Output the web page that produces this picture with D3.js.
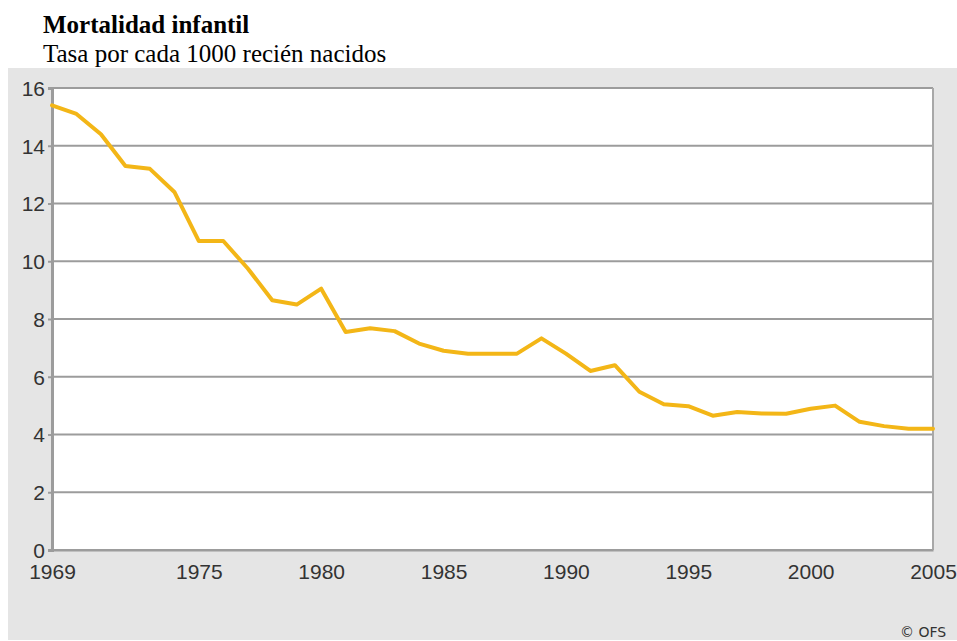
<!DOCTYPE html>
<html>
<head>
<meta charset="utf-8">
<script src="https://cdn.jsdelivr.net/npm/d3@7"></script>
<style>
  html, body { margin: 0; padding: 0; background: #ffffff; }
  svg { display: block; }
</style>
</head>
<body>
<svg id="chart" width="957" height="641"></svg>
<script>
const title = "Mortalidad infantil";
const subtitle = "Tasa por cada 1000 recién nacidos";
const credit = "© OFS";

const years = [1969, 1970, 1971, 1972, 1973, 1974, 1975, 1976, 1977, 1978,
               1979, 1980, 1981, 1982, 1983, 1984, 1985, 1986, 1987, 1988,
               1989, 1990, 1991, 1992, 1993, 1994, 1995, 1996, 1997, 1998,
               1999, 2000, 2001, 2002, 2003, 2004, 2005];
const rates = [15.4, 15.1, 14.4, 13.3, 13.2, 12.4, 10.7, 10.7, 9.75, 8.65,
               8.5, 9.05, 7.55, 7.68, 7.58, 7.15, 6.9, 6.8, 6.8, 6.8,
               7.33, 6.8, 6.2, 6.4, 5.48, 5.05, 4.98, 4.65, 4.78, 4.73,
               4.72, 4.89, 5.0, 4.44, 4.29, 4.2, 4.2];
const xTicks = [1969, 1975, 1980, 1985, 1990, 1995, 2000, 2005];
const yTicks = [0, 2, 4, 6, 8, 10, 12, 14, 16];

const svg = d3.select("#chart");
const W = 957, H = 641;
const plot = { left: 52, right: 933, top: 88, bottom: 550 };

// titles
svg.append("text")
  .attr("x", 43).attr("y", 33)
  .attr("font-family", "'Liberation Serif', 'Times New Roman', serif")
  .attr("font-size", 25).attr("font-weight", "bold").attr("fill", "#000")
  .text(title);
svg.append("text")
  .attr("x", 43).attr("y", 62)
  .attr("font-family", "'Liberation Serif', 'Times New Roman', serif")
  .attr("font-size", 25).attr("fill", "#000")
  .text(subtitle);

// gray panel
svg.append("rect")
  .attr("x", 8).attr("y", 68).attr("width", W - 8).attr("height", 572)
  .attr("fill", "#e5e5e5");

const x = d3.scaleLinear().domain([1969, 2005]).range([plot.left, plot.right]);
const y = d3.scaleLinear().domain([0, 16]).range([plot.bottom, plot.top]);

// plot background
svg.append("rect")
  .attr("x", plot.left).attr("y", plot.top)
  .attr("width", plot.right - plot.left).attr("height", plot.bottom - plot.top)
  .attr("fill", "#ffffff");

// gridlines
svg.append("g")
  .selectAll("line").data(yTicks).join("line")
  .attr("x1", plot.left).attr("x2", plot.right)
  .attr("y1", d => y(d)).attr("y2", d => y(d))
  .attr("stroke", "#9c9c9c").attr("stroke-width", 2);

// right border
svg.append("line")
  .attr("x1", plot.right).attr("x2", plot.right)
  .attr("y1", plot.top).attr("y2", plot.bottom)
  .attr("stroke", "#a8a8a8").attr("stroke-width", 2);

// left axis
const yAxis = d3.axisLeft(y).tickValues(yTicks).tickSize(4).tickPadding(4);
const gy = svg.append("g").attr("transform", `translate(${plot.left},0)`).call(yAxis);
gy.select(".domain").attr("stroke", "#9c9c9c").attr("stroke-width", 3);
gy.selectAll(".tick line").attr("stroke", "#9c9c9c").attr("stroke-width", 2);
gy.selectAll(".tick text")
  .attr("font-family", "'Liberation Sans', Arial, sans-serif")
  .attr("font-size", 21).attr("fill", "#333").attr("dy", "0.35em")
  .attr("x", -7);

// bottom axis (labels only)
const xAxis = d3.axisBottom(x).tickValues(xTicks).tickSize(0).tickPadding(0).tickFormat(d3.format("d"));
const gx = svg.append("g").attr("transform", `translate(0,${plot.bottom})`).call(xAxis);
gx.select(".domain").attr("stroke", "#9c9c9c").attr("stroke-width", 2);
gx.selectAll(".tick text")
  .attr("font-family", "'Liberation Sans', Arial, sans-serif")
  .attr("font-size", 21).attr("fill", "#333")
  .attr("y", 14).attr("dy", "0.71em");

// data line
const line = d3.line().x((d, i) => x(years[i])).y(d => y(d));
svg.append("path")
  .datum(rates)
  .attr("d", line)
  .attr("fill", "none")
  .attr("stroke", "#f3b617")
  .attr("stroke-width", 4)
  .attr("stroke-linejoin", "round")
  .attr("stroke-linecap", "round");

// credit
svg.append("text")
  .attr("x", 900).attr("y", 637)
  .attr("font-family", "'DejaVu Sans', Verdana, sans-serif")
  .attr("font-size", 14).attr("fill", "#333")
  .text(credit);
</script>
</body>
</html>
